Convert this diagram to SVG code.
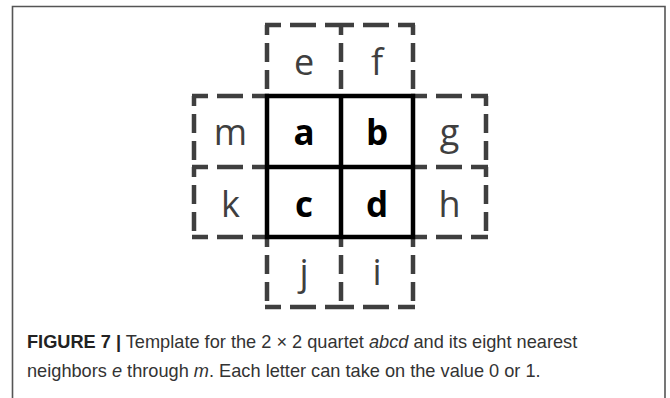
<svg xmlns="http://www.w3.org/2000/svg" width="670" height="398" viewBox="0 0 670 398">
<style>
.frame{fill:none;stroke:#555;stroke-width:1.6}
.dh{stroke:#3f3f3f;stroke-width:4.5;stroke-dasharray:26 9;stroke-dashoffset:10;fill:none}
.dv{stroke:#3f3f3f;stroke-width:4.5;stroke-dasharray:19 8;stroke-dashoffset:9;fill:none}
.solid{stroke:#000;stroke-width:4.5;fill:none}
.n{font-family:"Open Sans","Liberation Sans",sans-serif;font-size:36px;fill:#3f3f3f;text-anchor:middle}
.b{font-family:"Open Sans","Liberation Sans",sans-serif;font-size:35px;font-weight:bold;fill:#000;text-anchor:middle}
.cap{font-family:"Liberation Sans",Arial,sans-serif;font-size:18.2px;fill:#333}
</style>
<rect width="670" height="398" fill="#fff"/>
<path class="frame" d="M12.5,398 V6.5 H665 V398"/>
<g id="connectors">
<path class="dh" d="M265,25H342M338,25H415M192,96H269M411,96H488M192,167H269M411,167H488M192,237H269M411,237H488M265,307H342M338,307H415"/>
<path class="dv" d="M267,25V96M341,25V96M413,25V96M267,237V307M341,237V307M413,237V307M194,96V167M194,167V237M486,96V167M486,167V237"/>
<path class="solid" d="M267,96H413V237H267ZM341,96V237M267,167H413"/>
</g>
<g id="e"><text class="n" x="304" y="75">e</text></g>
<g id="f"><text class="n" x="377" y="75">f</text></g>
<g id="m"><text class="n" x="230.5" y="145">m</text></g>
<g id="a"><text class="b" x="304" y="145">a</text></g>
<g id="b"><text class="b" x="377" y="145">b</text></g>
<g id="g"><text class="n" x="449.5" y="145">g</text></g>
<g id="k"><text class="n" x="230.5" y="217">k</text></g>
<g id="c"><text class="b" x="304" y="217">c</text></g>
<g id="d"><text class="b" x="377" y="217">d</text></g>
<g id="h"><text class="n" x="449.5" y="217">h</text></g>
<g id="j"><text class="n" x="304" y="285">j</text></g>
<g id="i"><text class="n" x="377" y="285">i</text></g>
<g id="caption">
<text class="cap" x="27" y="348"><tspan font-weight="bold" fill="#222">FIGURE 7 |</tspan> Template for the 2 × 2 quartet <tspan font-style="italic">abcd</tspan> and its eight nearest</text>
<text class="cap" x="27" y="377">neighbors <tspan font-style="italic">e</tspan> through <tspan font-style="italic">m</tspan>. Each letter can take on the value 0 or 1.</text>
</g>
</svg>
